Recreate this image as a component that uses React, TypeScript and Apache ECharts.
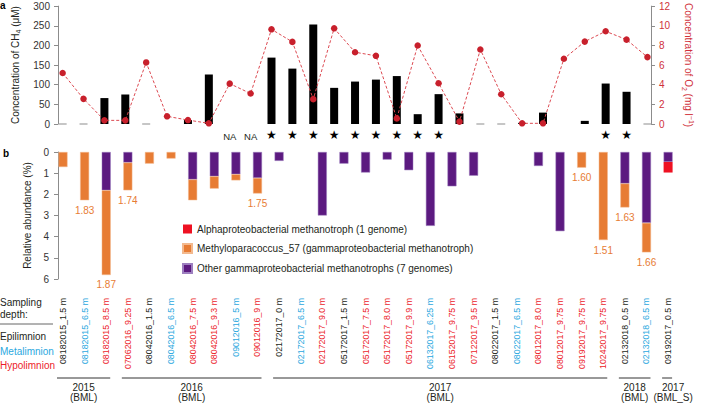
import React, { useEffect, useRef } from "react";
import * as echarts from "echarts";

const categories = [
  "08182015_1.5 m", "08182015_6.5 m", "08182015_8.5 m", "07062016_9.25 m",
  "08042016_1.5 m", "08042016_6.5 m", "08042016_7.5 m", "08042016_9.3 m",
  "09012016_5 m", "09012016_9 m", "02172017_0 m", "02172017_6.5 m",
  "02172017_9.0 m", "05172017_1.5 m", "05172017_7.5 m", "05172017_8.0 m",
  "05172017_9.9 m", "06132017_6.25 m", "06152017_9.75 m", "07122017_9.5 m",
  "08022017_1.5 m", "08022017_6.5 m", "08012017_8.0 m", "08012017_9.75 m",
  "09192017_9.75 m", "10242017_9.75 m", "02132018_0.5 m", "02132018_6.5 m",
  "09192017_0.5 m",
];
// E = Epilimnion, M = Metalimnion, H = Hypolimnion
const layers = [
  "E", "M", "H", "H", "E", "M", "H", "H", "M", "H", "E", "M", "H", "E", "H",
  "H", "H", "M", "H", "H", "E", "M", "H", "H", "H", "H", "E", "M", "E",
];
// CH4 (µM); 0 = below detection (grey dash), null = no bar
const ch4 = [
  0, 0, 66, 75, 0, null, 10, 126, null, null, 169, 141, 253, 92, 108, 113,
  122, 25, 76, 27, 0, 0, 3, 29, null, 8, 103, 82, 0,
];
// O2 (mg l-1)
const o2 = [
  5.19, 2.56, 0.37, 0.37, 6.27, 0.78, 0.4, 0.07, 4.11, 3.1, 9.64, 8.36, 2.53,
  9.74, 7.31, 6.94, 0.57, 7.99, 4.15, 0.24, 7.58, 3.03, 0.07, 0.07, 6.64,
  8.39, 9.44, 8.59, 6.81,
];
// "star" / "NA" markers under panel a
const marks = [
  "", "", "", "", "", "", "", "", "NA", "NA", "star", "star", "star", "star",
  "star", "star", "star", "star", "star", "", "", "", "", "", "", "", "star",
  "star", "",
];
// Relative abundance (%)
const otherGamma = [
  null, null, 1.81, 0.5, null, null, 1.3, 1.15, 1.05, 1.23, 0.42, null, 3.0,
  0.55, 0.97, 0.36, 0.86, 3.49, 1.62, 1.12, null, null, 0.66, 3.74, null,
  null, 1.49, 3.35, 0.47,
];
const methylo = [
  0.71, 2.28, 4.0, 1.31, 0.55, 0.31, 0.98, 0.58, 0.29, 0.73, null, null, null,
  null, null, null, null, null, null, null, null, null, null, null, 0.74,
  4.16, 1.13, 1.39, null,
];
const alpha = [
  null, null, null, null, null, null, null, null, null, null, null, null,
  null, null, null, null, null, null, null, null, null, null, null, null,
  null, null, null, null, 0.5,
];
const methyloLabels = [
  null, "1.83", "1.87", "1.74", null, null, null, null, null, "1.75", null,
  null, null, null, null, null, null, null, null, null, null, null, null,
  null, "1.60", "1.51", "1.63", "1.66", null,
];
const yearGroups = [
  { year: "2015", site: "(BML)", first: 0, last: 2 },
  { year: "2016", site: "(BML)", first: 3, last: 9 },
  { year: "2017", site: "(BML)", first: 10, last: 25 },
  { year: "2018", site: "(BML)", first: 26, last: 27 },
  { year: "2017", site: "(BML_S)", first: 28, last: 28 },
];
const ch4Ticks = { min: 0, max: 300, interval: 50 };
const o2Ticks = { min: 0, max: 12, interval: 2 };
const abTicks = { min: 0, max: 6, interval: 1 };

const FONT = "'Liberation Sans', Arial, Helvetica, sans-serif";
const C_TEXT = "#231f20";
const C_AXIS = "#8c8c8c";
const C_RED = "#d0303a";
const C_BLUE = "#2aa8e0";
const C_HYPO = "#ec1c2a";
const C_PURPLE = "#5c1a80";
const C_ORANGE = "#e77c34";
const C_ALPHA = "#ee1122";
const CAT_FS = 8.8;

export default function App() {
  const ref = useRef<HTMLDivElement>(null);
  useEffect(() => {
    if (!ref.current) return;
    const chart = echarts.init(ref.current, null, { renderer: "svg" });
    const gridLeft = 52.2;
    const gridWidth = 626.7;
    const axisStyle = {
      axisLine: { show: true, lineStyle: { color: C_AXIS, width: 1 } },
      axisTick: { show: true, length: 4, lineStyle: { color: C_AXIS } },
      splitLine: { show: false },
    };
    const option: any = {
      animation: false,
      textStyle: { fontFamily: FONT },
      grid: [
        { left: gridLeft, width: gridWidth, top: 6, height: 118 },
        { left: gridLeft, width: gridWidth, top: 152, height: 127 },
      ],
      legend: {
        orient: "vertical",
        left: 177,
        top: 219,
        itemWidth: 9,
        itemHeight: 9,
        itemGap: 9,
        icon: "rect",
        data: [
          "Alphaproteobacterial methanotroph (1 genome)",
          "Methyloparacoccus_57 (gammaproteobacterial methanotroph)",
          "Other gammaproteobacterial methanotrophs (7 genomes)",
        ],
        textStyle: { fontSize: 10, color: C_TEXT, fontFamily: FONT },
      },
      xAxis: [
        {
          gridIndex: 0,
          type: "category",
          data: categories,
          axisLine: { show: false },
          axisTick: { show: false },
          axisLabel: {
            interval: 0,
            margin: 5,
            hideOverlap: false,
            formatter: (_v: string, i: number) =>
              marks[i] === "star" ? "{s|★}" : marks[i] === "NA" ? "{n|NA}" : "",
            rich: {
              s: { fontSize: 12, color: "#000", fontFamily: "DejaVu Sans" },
              n: { fontSize: 9.5, color: C_TEXT, fontFamily: FONT, padding: [2, 0, 0, 0] },
            },
          },
        },
        {
          gridIndex: 1,
          type: "category",
          position: "bottom",
          data: categories,
          axisLine: { show: false },
          axisTick: { show: false },
          axisLabel: {
            interval: 0,
            rotate: 90,
            margin: 19,
            hideOverlap: false,
            fontSize: CAT_FS,
            fontFamily: FONT,
            formatter: (v: string, i: number) => `{${layers[i]}|${v}}`,
            rich: {
              E: { color: C_TEXT, fontSize: CAT_FS, fontFamily: FONT },
              M: { color: C_BLUE, fontSize: CAT_FS, fontFamily: FONT },
              H: { color: C_HYPO, fontSize: CAT_FS, fontFamily: FONT },
            },
          },
        },
      ],
      yAxis: [
        {
          gridIndex: 0,
          type: "value",
          position: "left",
          offset: -5.8,
          ...ch4Ticks,
          ...axisStyle,
          axisLabel: { fontSize: 10, color: "#333", margin: 8 },
          name: "Concentration of CH{sub|4} (μM)",
          nameLocation: "middle",
          nameRotate: 90,
          nameGap: 22,
          nameTextStyle: {
            fontSize: 10,
            color: C_TEXT,
            fontFamily: FONT,
            rich: {
              sub: { fontSize: 7, verticalAlign: "bottom", lineHeight: 14, fontFamily: FONT, color: C_TEXT },
            },
          },
        },
        {
          gridIndex: 0,
          type: "value",
          position: "right",
          offset: -6.9,
          ...o2Ticks,
          ...axisStyle,
          axisLabel: { fontSize: 10, color: C_RED, margin: 8 },
          name: "Concentration of O{sub|2} (mg l{sup|−1})",
          nameLocation: "middle",
          nameRotate: -90,
          nameGap: 23,
          nameTextStyle: {
            fontSize: 10,
            color: C_RED,
            fontFamily: FONT,
            rich: {
              sub: { fontSize: 7, verticalAlign: "bottom", lineHeight: 14, color: C_RED, fontFamily: FONT },
              sup: { fontSize: 7, verticalAlign: "top", lineHeight: 14, color: C_RED, fontFamily: FONT },
            },
          },
        },
        {
          gridIndex: 1,
          type: "value",
          position: "left",
          offset: -5.8,
          inverse: true,
          ...abTicks,
          ...axisStyle,
          axisLabel: { fontSize: 10, color: "#333", margin: 9 },
          name: "Relative abundance (%)",
          nameLocation: "middle",
          nameRotate: 90,
          nameGap: 15,
          nameTextStyle: { fontSize: 10, color: C_TEXT, fontFamily: FONT },
        },
      ],
      series: [
        {
          name: "CH4",
          type: "bar",
          xAxisIndex: 0,
          yAxisIndex: 0,
          barWidth: 8,
          data: ch4.map((v) => (v === 0 ? null : v)),
          itemStyle: { color: "#000" },
        },
        {
          name: "CH4 below detection",
          type: "scatter",
          xAxisIndex: 0,
          yAxisIndex: 0,
          symbol: "rect",
          symbolSize: [8, 1.6],
          data: ch4.map((v, i) => (v === 0 ? [i, 0] : null)).filter((d) => d !== null),
          itemStyle: { color: "#a6a6a6" },
        },
        {
          name: "O2",
          type: "line",
          xAxisIndex: 0,
          yAxisIndex: 1,
          data: o2,
          symbol: "circle",
          symbolSize: 6.5,
          z: 5,
          lineStyle: { color: "#dc4a52", width: 1, type: [3, 2] },
          itemStyle: { color: "#c8202c" },
        },
        {
          name: "Other gammaproteobacterial methanotrophs (7 genomes)",
          type: "bar",
          stack: "ab",
          xAxisIndex: 1,
          yAxisIndex: 2,
          barWidth: 9,
          data: otherGamma,
          itemStyle: { color: C_PURPLE, borderColor: "#9d7fbf", borderWidth: 0.5 },
        },
        {
          name: "Methyloparacoccus_57 (gammaproteobacterial methanotroph)",
          type: "bar",
          stack: "ab",
          xAxisIndex: 1,
          yAxisIndex: 2,
          barWidth: 9,
          data: methylo,
          itemStyle: { color: C_ORANGE, borderColor: "#f3b98e", borderWidth: 0.5 },
          label: {
            show: true,
            position: "bottom",
            distance: 5,
            fontSize: 10,
            color: C_ORANGE,
            fontFamily: FONT,
            formatter: (p: any) => methyloLabels[p.dataIndex] ?? "",
          },
        },
        {
          name: "Alphaproteobacterial methanotroph (1 genome)",
          type: "bar",
          stack: "ab",
          xAxisIndex: 1,
          yAxisIndex: 2,
          barWidth: 9,
          data: alpha,
          itemStyle: { color: C_ALPHA },
        },
      ],
    };
    chart.setOption(option);

    const xOf = (i: number) => chart.convertToPixel({ xAxisIndex: 1 }, i) as number;
    const lineY = 378;
    const elements: any[] = [
      { type: "text", left: 0, top: 0, style: { text: "a", font: `bold 10px ${FONT}`, fill: "#000" } },
      { type: "text", left: 3, top: 148, style: { text: "b", font: `bold 10px ${FONT}`, fill: "#000" } },
      {
        type: "text",
        left: 0,
        top: 296,
        style: { text: "Sampling\ndepth:", font: `10px ${FONT}`, fill: C_TEXT, lineHeight: 12 },
      },
      { type: "line", shape: { x1: 0, y1: 324, x2: 53, y2: 324 }, style: { stroke: "#666", lineWidth: 1 } },
      { type: "text", left: 0, top: 331, style: { text: "Epilimnion", font: `10px ${FONT}`, fill: C_TEXT } },
      { type: "text", left: 0, top: 346, style: { text: "Metalimnion", font: `10px ${FONT}`, fill: C_BLUE } },
      { type: "text", left: 0, top: 360, style: { text: "Hypolimnion", font: `10px ${FONT}`, fill: C_HYPO } },
    ];
    yearGroups.forEach((g) => {
      const x1 = xOf(g.first) - 6;
      const x2 = xOf(g.last) + 4;
      elements.push({
        type: "line",
        shape: { x1, y1: lineY, x2, y2: lineY },
        style: { stroke: "#333", lineWidth: 1 },
      });
      elements.push({
        type: "text",
        x: (x1 + x2) / 2 + (g.first === g.last ? 6 : 0),
        y: 382,
        style: {
          text: `${g.year}\n${g.site}`,
          font: `10px ${FONT}`,
          fill: C_TEXT,
          align: "center",
          verticalAlign: "top",
          lineHeight: 10.5,
        },
      });
    });
    chart.setOption({ graphic: { elements } });

    return () => chart.dispose();
  }, []);
  return (
    <div
      ref={ref}
      style={{ position: "fixed", left: 0, top: 0, width: 703, height: 404, background: "#fff" }}
    />
  );
}
